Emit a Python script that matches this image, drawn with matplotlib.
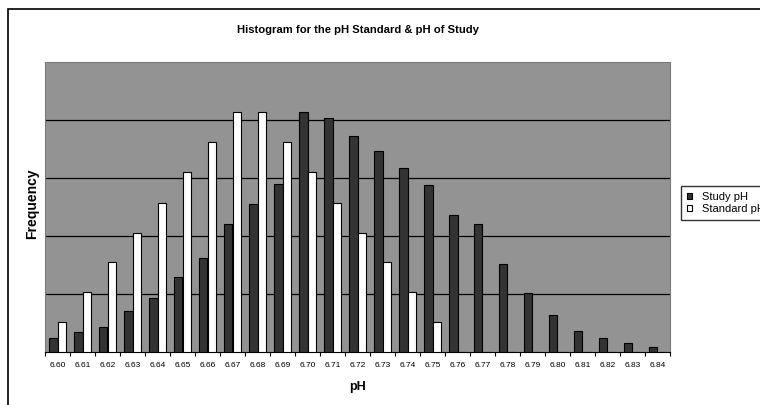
import matplotlib.pyplot as plt
from matplotlib.patches import Rectangle
import numpy as np

# pH bins and frequencies (gridline step = 10)
ph_bins = ['6.60', '6.61', '6.62', '6.63', '6.64', '6.65', '6.66', '6.67', '6.68',
           '6.69', '6.70', '6.71', '6.72', '6.73', '6.74', '6.75', '6.76', '6.77',
           '6.78', '6.79', '6.80', '6.81', '6.82', '6.83', '6.84']
study_ph = [2.5, 3.4, 4.3, 7.0, 9.3, 13.0, 16.2, 22.0, 25.5, 29.0, 41.3, 40.3, 37.3,
            34.6, 31.8, 28.8, 23.6, 22.1, 15.1, 10.1, 6.4, 3.6, 2.5, 1.5, 0.8]
standard_ph = [5.2, 10.4, 15.5, 20.6, 25.7, 31.0, 36.2, 41.3, 41.3, 36.2, 31.0, 25.7,
               20.6, 15.5, 10.4, 5.2, 0, 0, 0, 0, 0, 0, 0, 0, 0]

plt.rcParams['font.family'] = ['Liberation Sans', 'DejaVu Sans']

fig = plt.figure(figsize=(7.6, 4.05), dpi=100)
ax = fig.add_axes([45 / 760, 53 / 405, 625 / 760, 290 / 405])

# outer chart border (cropped on the right and bottom, as in the original)
fig.patches.append(Rectangle((8 / 760, -0.1), 1.2, (405 - 8.5) / 405 + 0.1,
                             transform=fig.transFigure, fill=False,
                             edgecolor='black', linewidth=1.2))

x = np.arange(len(ph_bins))
w = 1 / 3
ax.bar(x - w / 2, study_ph, width=w, color='#333333', edgecolor='black',
       linewidth=0.8, label='Study pH', zorder=3)
ax.bar(x + w / 2, standard_ph, width=w, color='white', edgecolor='black',
       linewidth=0.8, label='Standard pH', zorder=3)

ax.set_facecolor('#939393')
ax.set_xlim(-0.5, len(ph_bins) - 0.5)
ax.set_ylim(0, 50)
ax.set_yticks([10, 20, 30, 40])
ax.yaxis.grid(True, color='black', linewidth=0.9)
ax.tick_params(axis='y', length=0, labelleft=False)

ax.set_xticks(x)
ax.set_xticklabels(ph_bins, fontsize=6)
ax.set_xticks(np.arange(len(ph_bins) + 1) - 0.5, minor=True)
ax.tick_params(axis='x', which='major', length=0, pad=7)
ax.tick_params(axis='x', which='minor', length=3, width=0.8, direction='out')

for side in ['top', 'right', 'left']:
    ax.spines[side].set_color('#7a7a7a')
ax.spines['bottom'].set_color('black')

fig.text(358 / 760, 1 - 30 / 405, 'Histogram for the pH Standard & pH of Study',
         ha='center', va='center', fontsize=8.1, fontweight='bold')
fig.text(32 / 760, 1 - 204 / 405, 'Frequency', rotation=90, ha='center',
         va='center', fontsize=10, fontweight='bold')
fig.text(358 / 760, 1 - 387 / 405, 'pH', ha='center', va='center',
         fontsize=9, fontweight='bold')

# legend runs past the right edge in the original, so it is clipped here too
fig.legend(loc='upper left', bbox_to_anchor=(681 / 760, 1 - 186 / 405),
           fontsize=8, frameon=True, fancybox=False, edgecolor='black',
           handlelength=0.45, handleheight=0.45, handletextpad=0.9,
           borderpad=0.55, labelspacing=0.2, borderaxespad=0)

plt.savefig('out.png', dpi=100)
